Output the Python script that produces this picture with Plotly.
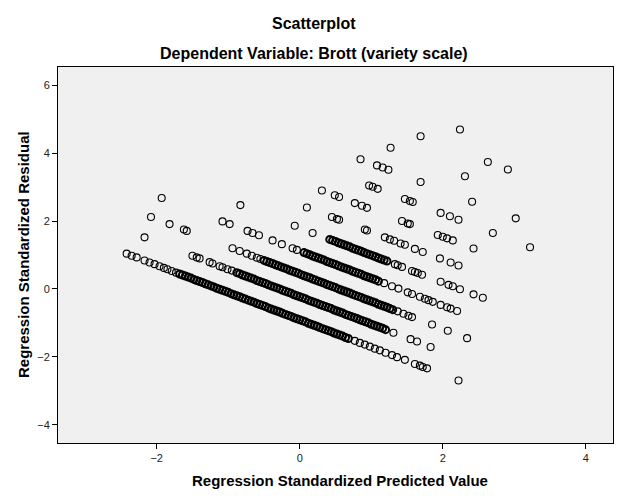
import plotly.graph_objects as go

# ---- data: regression standardized predicted value (x) vs standardized residual (y)
# Each residual band: scattered points (bN_x / bN_y) and heavily overlapping runs (bN_dense_x / bN_dense_y)

# band 1 (lowest)
b1_x = [-2.42, -2.35, -2.28, -2.17, -2.10, -2.03, -1.96, -1.90, -1.85, -1.79, -1.73,
        0.77, 0.84, 0.91, 0.98, 1.05, 1.12, 1.20, 1.29, 1.36, 1.47, 1.61, 1.68, 1.72, 1.78, 2.22]
b1_y = [1.04, 0.98, 0.93, 0.84, 0.78, 0.73, 0.67, 0.62, 0.58, 0.53, 0.48,
        -1.53, -1.59, -1.64, -1.70, -1.76, -1.81, -1.88, -1.95, -2.01, -2.09, -2.21, -2.26, -2.30, -2.34, -2.70]
b1_dense_x = [-1.68, -1.64, -1.60, -1.56, -1.52, -1.48, -1.44, -1.40, -1.36, -1.32, -1.28, -1.24,
              -1.20, -1.16, -1.12, -1.08, -1.04, -1.00, -0.96, -0.92, -0.88, -0.84, -0.80, -0.76,
              -0.72, -0.68, -0.64, -0.60, -0.56, -0.52, -0.48, -0.44, -0.40, -0.36, -0.32, -0.28,
              -0.24, -0.20, -0.16, -0.12, -0.08, -0.04, 0.00, 0.04, 0.08, 0.12, 0.16, 0.20, 0.24,
              0.28, 0.32, 0.36, 0.40, 0.44, 0.48, 0.52, 0.56, 0.60, 0.64, 0.68]
b1_dense_y = [0.44, 0.41, 0.38, 0.35, 0.32, 0.28, 0.25, 0.22, 0.19, 0.15, 0.12, 0.09,
              0.06, 0.02, -0.01, -0.04, -0.07, -0.10, -0.14, -0.17, -0.20, -0.23, -0.27, -0.30,
              -0.33, -0.36, -0.39, -0.43, -0.46, -0.49, -0.52, -0.56, -0.59, -0.62, -0.65, -0.68,
              -0.72, -0.75, -0.78, -0.81, -0.85, -0.88, -0.91, -0.94, -0.97, -1.01, -1.04, -1.07, -1.10,
              -1.14, -1.17, -1.20, -1.23, -1.26, -1.30, -1.33, -1.36, -1.39, -1.43, -1.46]

# band 2
b2_x = [-2.17, -1.50, -1.44, -1.40, -1.26, -1.22, -1.12, -1.08, -1.01, -0.95,
        1.31, 1.55, 1.64, 1.83]
b2_y = [1.52, 0.98, 0.93, 0.90, 0.79, 0.75, 0.67, 0.64, 0.58, 0.54,
        -1.29, -1.48, -1.55, -1.71]
b2_dense_x = [-0.88, -0.84, -0.80, -0.76, -0.72, -0.68, -0.64, -0.60, -0.56, -0.52, -0.48, -0.44,
              -0.40, -0.36, -0.32, -0.28, -0.24, -0.20, -0.16, -0.12, -0.08, -0.04, 0.00, 0.04,
              0.08, 0.12, 0.16, 0.20, 0.24, 0.28, 0.32, 0.36, 0.40, 0.44, 0.48, 0.52, 0.56, 0.60,
              0.64, 0.68, 0.72, 0.76, 0.80, 0.84, 0.88, 0.92, 0.96, 1.00, 1.04, 1.08, 1.12, 1.16, 1.20]
b2_dense_y = [0.48, 0.45, 0.41, 0.38, 0.35, 0.32, 0.29, 0.25, 0.22, 0.19, 0.16, 0.12,
              0.09, 0.06, 0.03, 0.00, -0.04, -0.07, -0.10, -0.13, -0.17, -0.20, -0.23, -0.26,
              -0.29, -0.33, -0.36, -0.39, -0.42, -0.46, -0.49, -0.52, -0.55, -0.58, -0.62, -0.65, -0.68, -0.71,
              -0.75, -0.78, -0.81, -0.84, -0.87, -0.91, -0.94, -0.97, -1.00, -1.04, -1.07, -1.10, -1.13, -1.16, -1.20]

# band 3
b3_x = [-2.08, -1.82, -1.62, -1.58, -0.94, -0.84, -0.74, -0.67, -0.60, -0.55,
        1.37, 1.45, 1.52, 1.57, 1.85, 2.07, 2.34]
b3_y = [2.12, 1.91, 1.75, 1.71, 1.20, 1.12, 1.04, 0.98, 0.92, 0.88,
        -0.66, -0.73, -0.79, -0.83, -1.05, -1.23, -1.45]
b3_dense_x = [-0.50, -0.46, -0.42, -0.38, -0.34, -0.30, -0.26, -0.22, -0.18, -0.14, -0.10, -0.06,
              -0.02, 0.02, 0.06, 0.10, 0.14, 0.18, 0.22, 0.26, 0.30, 0.34, 0.38, 0.42, 0.46, 0.50,
              0.54, 0.58, 0.62, 0.66, 0.70, 0.74, 0.78, 0.82, 0.86, 0.90, 0.94, 0.98, 1.02, 1.06,
              1.10, 1.14, 1.18, 1.22, 1.26, 1.30]
b3_dense_y = [0.84, 0.81, 0.78, 0.75, 0.71, 0.68, 0.65, 0.62, 0.59, 0.55, 0.52, 0.49,
              0.46, 0.42, 0.39, 0.36, 0.33, 0.29, 0.26, 0.23, 0.20, 0.17, 0.13, 0.10, 0.07, 0.04,
              0.00, -0.03, -0.06, -0.09, -0.12, -0.16, -0.19, -0.22, -0.25, -0.29, -0.32, -0.35, -0.38, -0.41,
              -0.45, -0.48, -0.51, -0.54, -0.58, -0.61]

# band 4
b4_x = [-1.93, -1.08, -0.98, -0.73, -0.66, -0.57, -0.38, -0.25, -0.10, -0.04,
        1.18, 1.29, 1.38, 1.51, 1.57, 1.68, 1.75, 1.80, 1.86, 1.97, 2.06, 2.11, 2.20]
b4_y = [2.68, 1.99, 1.91, 1.71, 1.65, 1.58, 1.43, 1.32, 1.20, 1.15,
        0.17, 0.08, 0.01, -0.10, -0.15, -0.23, -0.29, -0.33, -0.38, -0.47, -0.54, -0.58, -0.65]
b4_dense_x = [0.06, 0.10, 0.14, 0.18, 0.22, 0.26, 0.30, 0.34, 0.38, 0.42, 0.46, 0.50, 0.54, 0.58,
              0.62, 0.66, 0.70, 0.74, 0.78, 0.82, 0.86, 0.90, 0.94, 0.98, 1.02, 1.06, 1.10]
b4_dense_y = [1.07, 1.04, 1.01, 0.97, 0.94, 0.91, 0.88, 0.85, 0.81, 0.78, 0.75, 0.72, 0.68, 0.65,
              0.62, 0.59, 0.56, 0.52, 0.49, 0.46, 0.43, 0.39, 0.36, 0.33, 0.30, 0.27, 0.23]

# band 5
b5_x = [-0.83, -0.07, 0.18,
        1.33, 1.37, 1.43, 1.57, 1.61, 1.65, 1.71, 1.97, 2.08, 2.14, 2.24, 2.43, 2.56]
b5_y = [2.47, 1.86, 1.65,
        0.73, 0.70, 0.65, 0.53, 0.50, 0.47, 0.42, 0.21, 0.12, 0.08, -0.01, -0.16, -0.26]
b5_dense_x = [0.42, 0.46, 0.50, 0.54, 0.58, 0.62, 0.66, 0.70, 0.74, 0.78, 0.82, 0.86, 0.90, 0.94,
              0.98, 1.02, 1.06, 1.10, 1.14, 1.18, 1.22]
b5_dense_y = [1.46, 1.43, 1.40, 1.36, 1.33, 1.30, 1.27, 1.24, 1.20, 1.17, 1.14, 1.11, 1.07, 1.04,
              1.01, 0.98, 0.95, 0.91, 0.88, 0.85, 0.82]

# bands 6-12 (sparse, upper right)
b6_x = [0.10, 0.45, 0.52, 0.55, 0.91, 0.94, 1.19, 1.26, 1.32, 1.41, 1.47, 1.61, 1.72, 1.96, 2.11, 2.22]
b6_y = [2.40, 2.12, 2.06, 2.04, 1.75, 1.72, 1.52, 1.46, 1.42, 1.34, 1.30, 1.18, 1.09, 0.90, 0.78, 0.69]
b7_x = [0.31, 0.49, 0.55, 0.77, 0.87, 0.94, 1.43, 1.51, 1.54, 1.93, 2.00, 2.06, 2.14, 2.43]
b7_y = [2.90, 2.76, 2.71, 2.53, 2.45, 2.39, 2.00, 1.93, 1.91, 1.59, 1.54, 1.49, 1.43, 1.19]
b8_x = [0.97, 1.02, 1.09, 1.47, 1.54, 1.58, 1.97, 2.10, 2.22, 2.70, 3.22]
b8_y = [3.05, 3.01, 2.95, 2.65, 2.59, 2.56, 2.24, 2.14, 2.04, 1.65, 1.23]
b9_x = [0.85, 1.08, 1.16, 1.24, 1.69, 2.41, 3.02]
b9_y = [3.82, 3.64, 3.58, 3.51, 3.15, 2.57, 2.08]
b10_x = [1.27, 2.31]
b10_y = [4.16, 3.32]
b11_x = [1.69, 2.63, 2.91]
b11_y = [4.50, 3.74, 3.52]
b12_x = [2.24]
b12_y = [4.70]

x_ticks = [-2, 0, 2, 4]
y_ticks = [-4, -2, 0, 2, 4, 6]

title_main = "Scatterplot"
title_sub = "Dependent Variable: Brott (variety scale)"
x_title = "Regression Standardized Predicted Value"
y_title = "Regression Standardized Residual"

sparse_x = [b1_x, b2_x, b3_x, b4_x, b5_x, b6_x, b7_x, b8_x, b9_x, b10_x, b11_x, b12_x]
sparse_y = [b1_y, b2_y, b3_y, b4_y, b5_y, b6_y, b7_y, b8_y, b9_y, b10_y, b11_y, b12_y]
dense_x = [b1_dense_x, b2_dense_x, b3_dense_x, b4_dense_x, b5_dense_x]
dense_y = [b1_dense_y, b2_dense_y, b3_dense_y, b4_dense_y, b5_dense_y]

FONT = "Liberation Sans, Arial, sans-serif"

fig = go.Figure()
for bx, by in zip(dense_x, dense_y):
    fig.add_trace(go.Scatter(
        x=bx, y=by, mode="markers", showlegend=False,
        marker=dict(symbol="circle-open", size=7, color="#000000",
                    line=dict(width=2.0, color="#000000")),
        hoverinfo="x+y"))
for bx, by in zip(sparse_x, sparse_y):
    fig.add_trace(go.Scatter(
        x=bx, y=by, mode="markers", showlegend=False,
        marker=dict(symbol="circle-open", size=7, color="#000000",
                    line=dict(width=1.1, color="#000000")),
        hoverinfo="x+y"))

# The page body has an 8px default margin, so the figure is sized/margined to compensate.
fig.update_layout(
    width=621, height=496,
    margin=dict(l=50, r=16, t=59, b=61),
    paper_bgcolor="white", plot_bgcolor="#F0F0F0",
    font=dict(family=FONT, color="#000000"),
    xaxis=dict(range=[-3.38, 4.38], tickvals=x_ticks, ticks="outside", ticklen=5,
               tickcolor="#000000", showgrid=False, zeroline=False,
               showline=True, mirror=True, linecolor="#000000", linewidth=1,
               tickfont=dict(size=11, color="#222222", family=FONT)),
    yaxis=dict(range=[-4.54, 6.54], tickvals=y_ticks, ticks="outside", ticklen=5,
               tickcolor="#000000", showgrid=False, zeroline=False,
               showline=True, mirror=True, linecolor="#000000", linewidth=1,
               tickfont=dict(size=11, color="#222222", family=FONT)),
    annotations=[
        dict(text="<b>%s</b>" % title_main, xref="paper", yref="paper",
             x=0.461, y=1.115, xanchor="center", yanchor="middle", showarrow=False,
             font=dict(size=16, family=FONT, color="#000000")),
        dict(text="<b>%s</b>" % title_sub, xref="paper", yref="paper",
             x=0.461, y=1.035, xanchor="center", yanchor="middle", showarrow=False,
             font=dict(size=16, family=FONT, color="#000000")),
        dict(text="<b>%s</b>" % x_title, xref="paper", yref="paper",
             x=0.508, y=-0.101, xanchor="center", yanchor="middle", showarrow=False,
             font=dict(size=15, family=FONT, color="#000000")),
        dict(text="<b>%s</b>" % y_title, xref="paper", yref="paper",
             x=-0.063, y=0.5, xanchor="center", yanchor="middle", showarrow=False,
             textangle=-90, font=dict(size=15, family=FONT, color="#000000")),
    ],
)

fig.write_html("out.html")
